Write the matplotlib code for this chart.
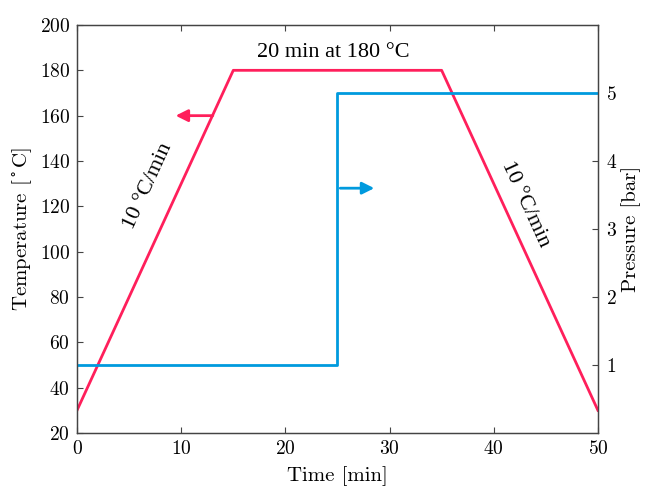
import matplotlib.pyplot as plt

plt.rcParams['font.family'] = 'serif'
plt.rcParams['font.serif'] = ['cmr10']
plt.rcParams['mathtext.fontset'] = 'cm'
plt.rcParams['axes.formatter.use_mathtext'] = True
plt.rcParams['axes.unicode_minus'] = False

# temperature profile
time_temp = [0, 15, 35, 50]
temperature = [30, 180, 180, 30]

# pressure profile
time_pres = [0, 25, 25, 50]
pressure = [1, 1, 5, 5]

red = '#FF1F5B'
blue = '#009ADE'
spine_col = '#444444'

fig = plt.figure(figsize=(6.45, 4.88), dpi=100)
ax = fig.add_axes([0.1194, 0.1127, 0.8076, 0.8361])
ax2 = ax.twinx()

ax.plot(time_temp, temperature, color=red, lw=2)
ax2.plot(time_pres, pressure, color=blue, lw=2)

ax.set_xlim(0, 50)
ax.set_ylim(20, 200)
ax2.set_ylim(0, 6)
ax.set_xticks([0, 10, 20, 30, 40, 50])
ax.set_yticks(range(20, 201, 20))
ax2.set_yticks([1, 2, 3, 4, 5])

ax.tick_params(direction='in', top=True, right=False, length=4, labelsize=14,
               color=spine_col, pad=5)
ax2.tick_params(direction='in', length=4, labelsize=14, color=spine_col, pad=6)
for a in (ax, ax2):
    for s in a.spines.values():
        s.set_color(spine_col)
        s.set_linewidth(0.9)

ax.set_xlabel('Time [min]', fontsize=15, labelpad=6)
ax.set_ylabel(r'Temperature [$\mathregular{{}^\circ}$C]', fontsize=15, labelpad=4)
ax2.set_ylabel('Pressure [bar]', fontsize=15, labelpad=3)

# arrows pointing to the respective axes
ax.annotate('', xy=(9.2, 160), xytext=(13.3, 160),
            arrowprops=dict(arrowstyle='-|>', color=red, lw=2, mutation_scale=18))
ax2.annotate('', xy=(28.8, 3.6), xytext=(25, 3.6),
             arrowprops=dict(arrowstyle='-|>', color=blue, lw=2, mutation_scale=18))

tfont = dict(family='Liberation Serif', fontsize=16)
ax.text(24.6, 188, '20 min at 180 °C', ha='center', va='center', **tfont)
ax.text(6.8, 129, '10 °C/min', ha='center', va='center', rotation=65.4, **tfont)
ax.text(43.0, 121, '10 °C/min', ha='center', va='center', rotation=-65.4, **tfont)

fig.savefig('out.png', dpi=100)
